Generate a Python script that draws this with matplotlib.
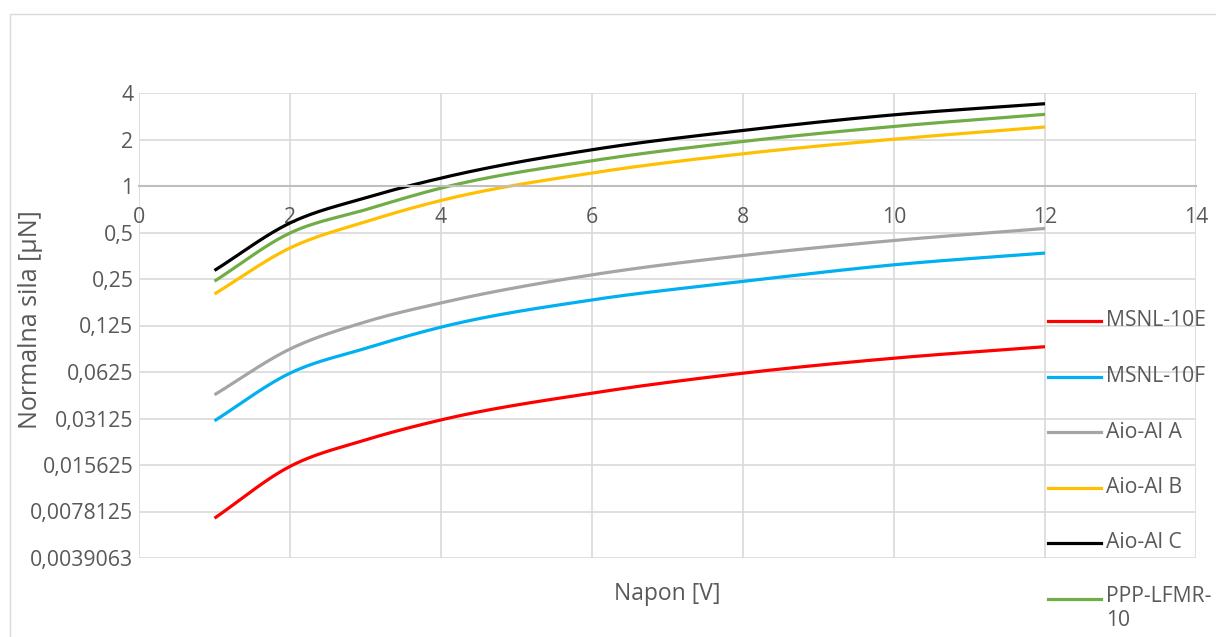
import numpy as np
import matplotlib
matplotlib.use("Agg")
import matplotlib.pyplot as plt
from matplotlib.lines import Line2D
from matplotlib.patches import Rectangle
from matplotlib.ticker import FixedLocator, FixedFormatter

plt.rcParams['font.family'] = ['Open Sans', 'DejaVu Sans']

# napon [V]
napon = [1, 2, 3, 4, 6, 8, 10, 12]

# normalna sila [uN], procitano sa slike
msnl_10e = [0.00707, 0.0153, 0.0227, 0.0306, 0.0456, 0.0614, 0.0768, 0.0911]
msnl_10f = [0.0302, 0.0614, 0.0889, 0.122, 0.183, 0.241, 0.309, 0.368]
aio_al_a = [0.0445, 0.088, 0.132, 0.175, 0.266, 0.355, 0.444, 0.531]
aio_al_b = [0.200, 0.397, 0.587, 0.806, 1.214, 1.617, 2.01, 2.41]
aio_al_c = [0.284, 0.576, 0.839, 1.125, 1.717, 2.29, 2.89, 3.41]
ppp_lfmr = [0.242, 0.496, 0.702, 0.969, 1.457, 1.943, 2.43, 2.91]

series = [
    ("MSNL-10E", msnl_10e, "#FF0000"),
    ("MSNL-10F", msnl_10f, "#00B0F0"),
    ("Aio-Al A", aio_al_a, "#A5A5A5"),
    ("Aio-Al B", aio_al_b, "#FFC000"),
    ("Aio-Al C", aio_al_c, "#000000"),
    ("PPP-LFMR-\n10", ppp_lfmr, "#70AD47"),
]

y_ticks = [2.0 ** k for k in range(-8, 3)]
y_labels = ["0,0039063", "0,0078125", "0,015625", "0,03125", "0,0625",
            "0,125", "0,25", "0,5", "1", "2", "4"]
x_ticks = [0, 2, 4, 6, 8, 10, 12, 14]

TXT = "#595959"
GRID = "#D9D9D9"


def smooth(x, y, n=40):
    # glatka linija kao u excelu (hermite u x / log2(y))
    x = np.asarray(x, float)
    ly = np.log2(np.asarray(y, float))
    m = np.gradient(ly, x)
    m[0] = (ly[1] - ly[0]) / (x[1] - x[0])
    m[-1] = (ly[-1] - ly[-2]) / (x[-1] - x[-2])
    px, py = [], []
    for i in range(len(x) - 1):
        h = x[i + 1] - x[i]
        t = np.linspace(0, 1, n)
        h00 = 2*t**3 - 3*t**2 + 1
        h10 = t**3 - 2*t**2 + t
        h01 = -2*t**3 + 3*t**2
        h11 = t**3 - t**2
        px.extend(x[i] + t * h)
        py.extend(h00*ly[i] + h10*h*m[i] + h01*ly[i+1] + h11*h*m[i+1])
    return np.array(px), 2.0 ** np.array(py)


W, H = 1216, 637
fig = plt.figure(figsize=(W / 100, H / 100), dpi=100)
fig.patches.append(Rectangle((10 / W, -0.1), 1.2, 1 - 14 / H + 0.1,
                             transform=fig.transFigure, fill=False,
                             edgecolor=GRID, linewidth=1))

ax = fig.add_axes([139 / W, 1 - 558 / H, (1196 - 139) / W, (558 - 93) / H])
ax.set_yscale("log", base=2)
ax.set_xlim(0, 14)
ax.set_ylim(2.0 ** -8, 4)

ax.yaxis.set_major_locator(FixedLocator(y_ticks))
ax.yaxis.set_major_formatter(FixedFormatter(y_labels))
ax.yaxis.set_minor_locator(FixedLocator([]))
ax.set_xticks(x_ticks)
ax.set_xticklabels([str(v) for v in x_ticks])

ax.grid(True, color=GRID, linewidth=1.2)
ax.set_axisbelow(True)
for s in ["top", "right", "left"]:
    ax.spines[s].set_visible(False)
ax.spines["bottom"].set_position(("data", 1))
ax.spines["bottom"].set_color("#BFBFBF")
ax.spines["bottom"].set_linewidth(1.5)
ax.tick_params(axis="both", length=0, labelsize=15.3, labelcolor=TXT)
ax.tick_params(axis="x", pad=15)
ax.tick_params(axis="y", pad=4)

for name, vals, col in series:
    sx, sy = smooth(napon, vals)
    ax.plot(sx, sy, color=col, linewidth=2.3, solid_capstyle="butt")

fig.text(667 / W, 1 - 594 / H, "Napon [V]", ha="center", va="center",
         fontsize=16.5, color=TXT)
fig.text(31 / W, 1 - 320 / H, "Normalna sila [µN]", ha="center", va="center",
         rotation=90, fontsize=18, color=TXT)

# legenda
for i, (name, vals, col) in enumerate(series):
    yy = 1 - (321 + i * 55.5) / H
    fig.add_artist(Line2D([1048 / W, 1101 / W], [yy, yy], color=col,
                          linewidth=2.3, transform=fig.transFigure))
    if "\n" in name:
        fig.text(1106 / W, yy + 13 / H, name, ha="left", va="top",
                 fontsize=15.2, color=TXT, linespacing=1.2)
    else:
        fig.text(1106 / W, yy, name, ha="left", va="center",
                 fontsize=15.2, color=TXT)

fig.savefig("out.png", dpi=100)
